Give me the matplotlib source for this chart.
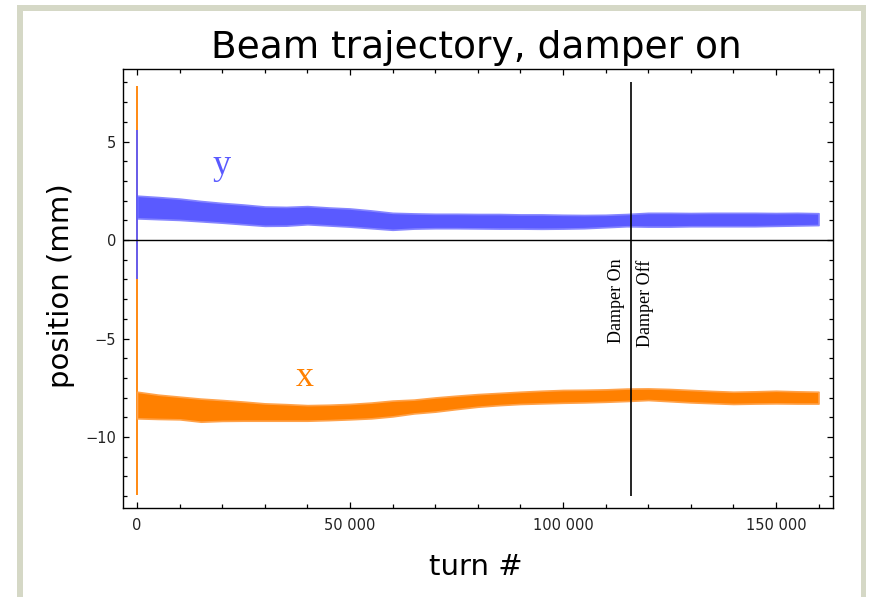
import numpy as np
import matplotlib
matplotlib.use("Agg")
import matplotlib.pyplot as plt
from matplotlib.patches import Rectangle
from matplotlib.ticker import MultipleLocator, FuncFormatter


# turn number samples for the band envelopes
turns = np.arange(0, 160001, 5000)

# vertical beam position band (mm)
y_hi = [2.25, 2.18, 2.10, 1.98, 1.88, 1.80, 1.70, 1.68, 1.72, 1.65, 1.60,
        1.50, 1.38, 1.35, 1.33, 1.33, 1.32, 1.32, 1.30, 1.30, 1.28, 1.27,
        1.28, 1.32, 1.38, 1.38, 1.37, 1.38, 1.38, 1.38, 1.37, 1.38, 1.36]
y_lo = [1.10, 1.06, 1.02, 0.95, 0.88, 0.80, 0.72, 0.73, 0.80, 0.74, 0.68,
        0.60, 0.52, 0.58, 0.60, 0.60, 0.59, 0.58, 0.58, 0.57, 0.58, 0.60,
        0.65, 0.70, 0.68, 0.68, 0.70, 0.70, 0.70, 0.70, 0.72, 0.74, 0.76]

# horizontal beam position band (mm)
x_hi = [-7.70, -7.85, -7.95, -8.05, -8.12, -8.20, -8.29, -8.33, -8.38, -8.36,
        -8.32, -8.25, -8.15, -8.10, -7.99, -7.90, -7.82, -7.76, -7.70, -7.65,
        -7.61, -7.60, -7.58, -7.54, -7.53, -7.56, -7.61, -7.66, -7.70, -7.68,
        -7.65, -7.68, -7.70]
x_lo = [-9.05, -9.08, -9.10, -9.22, -9.18, -9.17, -9.17, -9.17, -9.17, -9.14,
        -9.10, -9.05, -8.95, -8.80, -8.71, -8.58, -8.46, -8.38, -8.32, -8.29,
        -8.26, -8.24, -8.21, -8.17, -8.12, -8.18, -8.24, -8.28, -8.32, -8.30,
        -8.29, -8.30, -8.30]

# injection transient at turn 0 (min, max)
x_kick = (-12.95, 7.8)
y_kick = (-2.0, 5.6)

damper_turn = 116000

BLUE = "#5a5aff"
ORANGE = "#ff8000"


def fmt_turn(v, pos):
    n = int(round(v))
    if n == 0:
        return "0"
    return f"{n:,}".replace(",", " ")


def fmt_pos(v, pos):
    n = int(round(v))
    return f"\u2212{-n}" if n < 0 else str(n)


fig = plt.figure(figsize=(8.69, 5.97), dpi=100)

# slide frame
for x0, y0, w, h in [(17, 5, 6, 592), (17, 5, 849, 6), (861, 5, 5, 592)]:
    fig.patches.append(Rectangle((x0 / 869, 1 - (y0 + h) / 597), w / 869, h / 597,
                                 transform=fig.transFigure, facecolor="#d5d8c6",
                                 edgecolor="none", zorder=0))

ax = fig.add_axes([123 / 869, 1 - 508 / 597, 710 / 869, 439 / 597])

ax.vlines(0, *x_kick, color=ORANGE, lw=1.3, zorder=2)
ax.vlines(0, *y_kick, color=BLUE, lw=1.3, zorder=3)
ax.fill_between(turns, x_lo, x_hi, color=ORANGE, lw=1.2, ec="#ffa24a", zorder=2)
ax.fill_between(turns, y_lo, y_hi, color=BLUE, lw=1.2, ec="#8585ff", zorder=2)

ax.axhline(0, color="black", lw=1.0, zorder=4)
ax.vlines(damper_turn, -13.0, 8.0, color="black", lw=1.2, zorder=5)

ax.text(damper_turn - 1500, -5.23, "Damper On", rotation=90, ha="right", va="bottom",
        family="Liberation Serif", fontsize=13, color="black")
ax.text(damper_turn + 1200, -5.43, "Damper Off", rotation=90, ha="left", va="bottom",
        family="Liberation Serif", fontsize=13, color="black")

ax.text(19950, 3.8, "y", color=BLUE, family="Liberation Serif", fontsize=26,
        ha="center", va="center")
ax.text(39400, -7.0, "x", color=ORANGE, family="Liberation Serif", fontsize=26,
        ha="center", va="center")

ax.set_xlim(-3290, 163400)
ax.set_ylim(-13.6, 8.68)

ax.xaxis.set_major_locator(MultipleLocator(50000))
ax.xaxis.set_minor_locator(MultipleLocator(10000))
ax.yaxis.set_major_locator(MultipleLocator(5))
ax.yaxis.set_minor_locator(MultipleLocator(1))
ax.xaxis.set_major_formatter(FuncFormatter(fmt_turn))
ax.yaxis.set_major_formatter(FuncFormatter(fmt_pos))

ax.tick_params(which="both", direction="in", top=True, right=True,
               labelsize=10.5, labelcolor="#222222", width=0.9)
ax.tick_params(which="major", length=4.5)
ax.tick_params(which="minor", length=2.6)
ax.tick_params(axis="x", pad=7)
ax.tick_params(axis="y", pad=5)
for sp in ax.spines.values():
    sp.set_linewidth(1.0)

fig.text(476 / 869, 1 - 58 / 597, "Beam trajectory, damper on", fontsize=27,
         ha="center", va="baseline")
fig.text(476 / 869, 1 - 575 / 597, "turn #", fontsize=21,
         ha="center", va="baseline")
fig.text(61 / 869, 1 - 286 / 597, "position (mm)", fontsize=21, rotation=90,
         ha="center", va="center")

fig.savefig("out.png", dpi=100)
plt.close(fig)
